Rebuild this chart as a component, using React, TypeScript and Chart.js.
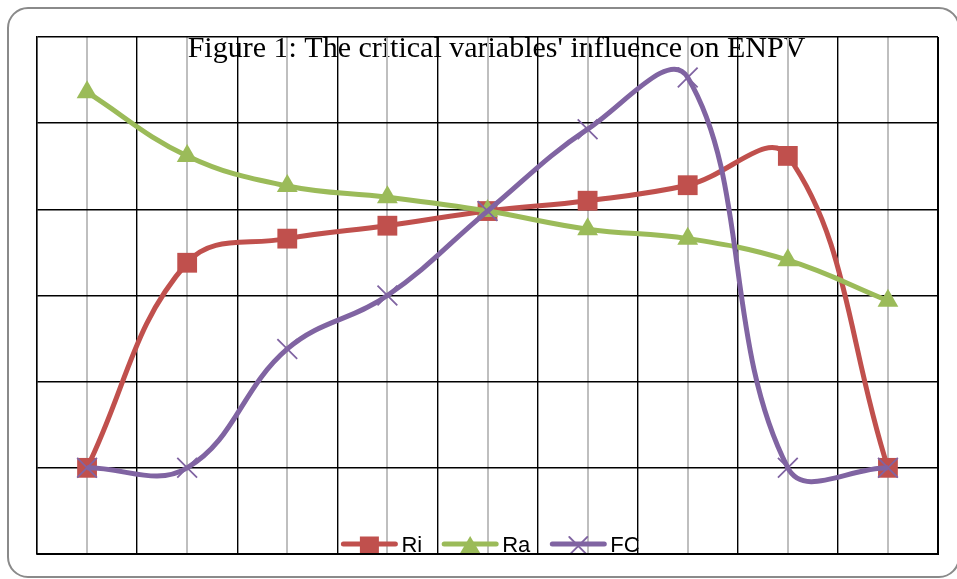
import React, { useEffect, useRef } from "react";
import { Chart, registerables } from "chart.js";

Chart.register(...registerables);

const titleText = "Figure 1: The critical variables' influence on ENPV";
const categories = ["1", "2", "3", "4", "5", "6", "7", "8", "9"];
const seriesNames = ["Ri", "Ra", "FC"];
const riValues = [1.0, 3.38, 3.66, 3.81, 3.98, 4.1, 4.28, 4.62, 1.0];
const raValues = [5.36, 4.62, 4.27, 4.14, 3.98, 3.77, 3.66, 3.41, 2.94];
const fcValues = [1.0, 1.0, 2.38, 3.0, 3.98, 4.93, 5.53, 1.0, 1.0];
const yMin = 0;
const yMax = 6;

const RED = "#C0504D";
const GREEN = "#9BBB59";
const PURPLE = "#8064A2";

function drawMarker(ctx: CanvasRenderingContext2D, style: string, x: number, y: number, color: string) {
  ctx.save();
  ctx.fillStyle = color;
  ctx.strokeStyle = color;
  if (style === "rect") {
    ctx.fillRect(x - 9.5, y - 9.5, 19, 19);
  } else if (style === "triangle") {
    ctx.beginPath();
    ctx.moveTo(x, y - 10);
    ctx.lineTo(x + 10, y + 7);
    ctx.lineTo(x - 10, y + 7);
    ctx.closePath();
    ctx.fill();
  } else {
    ctx.lineWidth = 1.8;
    ctx.beginPath();
    ctx.moveTo(x - 9, y - 9);
    ctx.lineTo(x + 9, y + 9);
    ctx.moveTo(x + 9, y - 9);
    ctx.lineTo(x - 9, y + 9);
    ctx.stroke();
  }
  ctx.restore();
}

const framePlugin = {
  id: "frame",
  beforeDraw(chart: any) {
    const ctx = chart.ctx as CanvasRenderingContext2D;
    const area = chart.chartArea;
    ctx.save();
    ctx.fillStyle = "#ffffff";
    ctx.fillRect(0, 0, chart.width, chart.height);
    // rounded outer border
    ctx.strokeStyle = "#8a8a8a";
    ctx.lineWidth = 2;
    const x0 = 8, y0 = 8, x1 = 959, y1 = 577, r = 20;
    ctx.beginPath();
    ctx.moveTo(x0 + r, y0);
    ctx.lineTo(x1 - r, y0);
    ctx.arcTo(x1, y0, x1, y0 + r, r);
    ctx.lineTo(x1, y1 - r);
    ctx.arcTo(x1, y1, x1 - r, y1, r);
    ctx.lineTo(x0 + r, y1);
    ctx.arcTo(x0, y1, x0, y1 - r, r);
    ctx.lineTo(x0, y0 + r);
    ctx.arcTo(x0, y0, x0 + r, y0, r);
    ctx.closePath();
    ctx.stroke();
    // title (drawn beneath grid)
    ctx.fillStyle = "#000000";
    ctx.font = "30px 'Liberation Serif', 'Times New Roman', serif";
    ctx.textAlign = "center";
    ctx.textBaseline = "alphabetic";
    ctx.fillText(titleText, (area.left + area.right) / 2 + 9, 57);
    ctx.restore();
  },
  afterDraw(chart: any) {
    const ctx = chart.ctx as CanvasRenderingContext2D;
    const area = chart.chartArea;
    ctx.save();
    // heavier right/bottom edges of plot area
    ctx.strokeStyle = "#000";
    ctx.lineWidth = 2;
    ctx.beginPath();
    ctx.moveTo(area.right, area.top);
    ctx.lineTo(area.right, area.bottom);
    ctx.lineTo(area.left, area.bottom);
    ctx.stroke();
    ctx.restore();

    // legend
    ctx.save();
    ctx.beginPath();
    ctx.rect(0, 0, chart.width, area.bottom - 1);
    ctx.clip();
    ctx.font = "22px 'Liberation Sans', Arial, sans-serif";
    ctx.textBaseline = "alphabetic";
    ctx.textAlign = "left";
    const lineLen = 56;
    const gapText = 4;
    const gapItem = 20;
    const items = chart.data.datasets.map((ds: any) => ({
      label: ds.label,
      color: ds.borderColor,
      style: ds.pointStyle,
      tw: ctx.measureText(ds.label).width,
    }));
    const total = items.reduce((s: number, it: any) => s + lineLen + gapText + it.tw, 0) + gapItem * (items.length - 1);
    let x = (area.left + area.right) / 2 + 3 - total / 2;
    const y = area.bottom - 10;
    for (const it of items) {
      ctx.strokeStyle = it.color;
      ctx.lineWidth = 5;
      ctx.lineCap = "round";
      ctx.beginPath();
      ctx.moveTo(x + 2, y);
      ctx.lineTo(x + lineLen - 2, y);
      ctx.stroke();
      drawMarker(ctx, it.style, x + lineLen / 2, y + 2, it.color);
      ctx.fillStyle = "#000";
      ctx.fillText(it.label, x + lineLen + gapText, area.bottom - 2);
      x += lineLen + gapText + it.tw + gapItem;
    }
    ctx.restore();
  },
};

export default function App() {
  const canvasRef = useRef<HTMLCanvasElement | null>(null);

  useEffect(() => {
    const canvas = canvasRef.current;
    if (!canvas) return;
    const chart = new Chart(canvas, {
      type: "line",
      data: {
        labels: categories,
        datasets: [
          {
            label: seriesNames[0],
            data: riValues,
            borderColor: RED,
            backgroundColor: RED,
            borderWidth: 5,
            tension: 0.4,
            pointStyle: "rect",
            pointRadius: 14,
            pointBorderWidth: 0,
            pointBackgroundColor: RED,
            order: 3,
            xAxisID: "x",
          },
          {
            label: seriesNames[1],
            data: raValues,
            borderColor: GREEN,
            backgroundColor: GREEN,
            borderWidth: 5,
            tension: 0.4,
            pointStyle: "triangle",
            pointRadius: 12,
            pointBorderWidth: 0,
            pointBackgroundColor: GREEN,
            order: 2,
            xAxisID: "x",
          },
          {
            label: seriesNames[2],
            data: fcValues,
            borderColor: PURPLE,
            backgroundColor: PURPLE,
            borderWidth: 5,
            tension: 0.4,
            pointStyle: "crossRot",
            pointRadius: 14,
            pointBorderWidth: 1.8,
            pointBorderColor: PURPLE,
            order: 1,
            xAxisID: "x",
          },
        ],
      },
      options: {
        animation: false,
        responsive: false,
        maintainAspectRatio: false,
        events: [],
        layout: { padding: { left: 37, top: 37, right: 19, bottom: 25 } },
        plugins: {
          legend: { display: false },
          title: { display: false },
          tooltip: { enabled: false },
        },
        scales: {
          x: {
            type: "category",
            offset: true,
            grid: { offset: true, color: "#000000", lineWidth: 1.4, drawTicks: false },
            border: { display: true, color: "#000000", width: 1.4 },
            ticks: { display: false },
            afterFit: (s: any) => { s.height = 0; },
          },
          x2: {
            type: "category",
            position: "top",
            offset: true,
            grid: { offset: false, color: "#BFBFBF", lineWidth: 2, drawTicks: false },
            border: { display: false },
            ticks: { display: false },
            afterFit: (s: any) => { s.height = 0; },
          },
          y: {
            min: yMin,
            max: yMax,
            ticks: { display: false, stepSize: 1 },
            grid: { color: "#000000", lineWidth: 1.4, drawTicks: false },
            border: { display: true, color: "#000000", width: 1.4 },
            afterFit: (s: any) => { s.width = 0; },
          },
        },
      } as any,
      plugins: [framePlugin],
    });
    return () => chart.destroy();
  }, []);

  return (
    <div style={{ position: "fixed", left: 0, top: 0, width: 957, height: 579, background: "#fff" }}>
      <canvas ref={canvasRef} width={957} height={579} style={{ display: "block", width: 957, height: 579 }} />
    </div>
  );
}
